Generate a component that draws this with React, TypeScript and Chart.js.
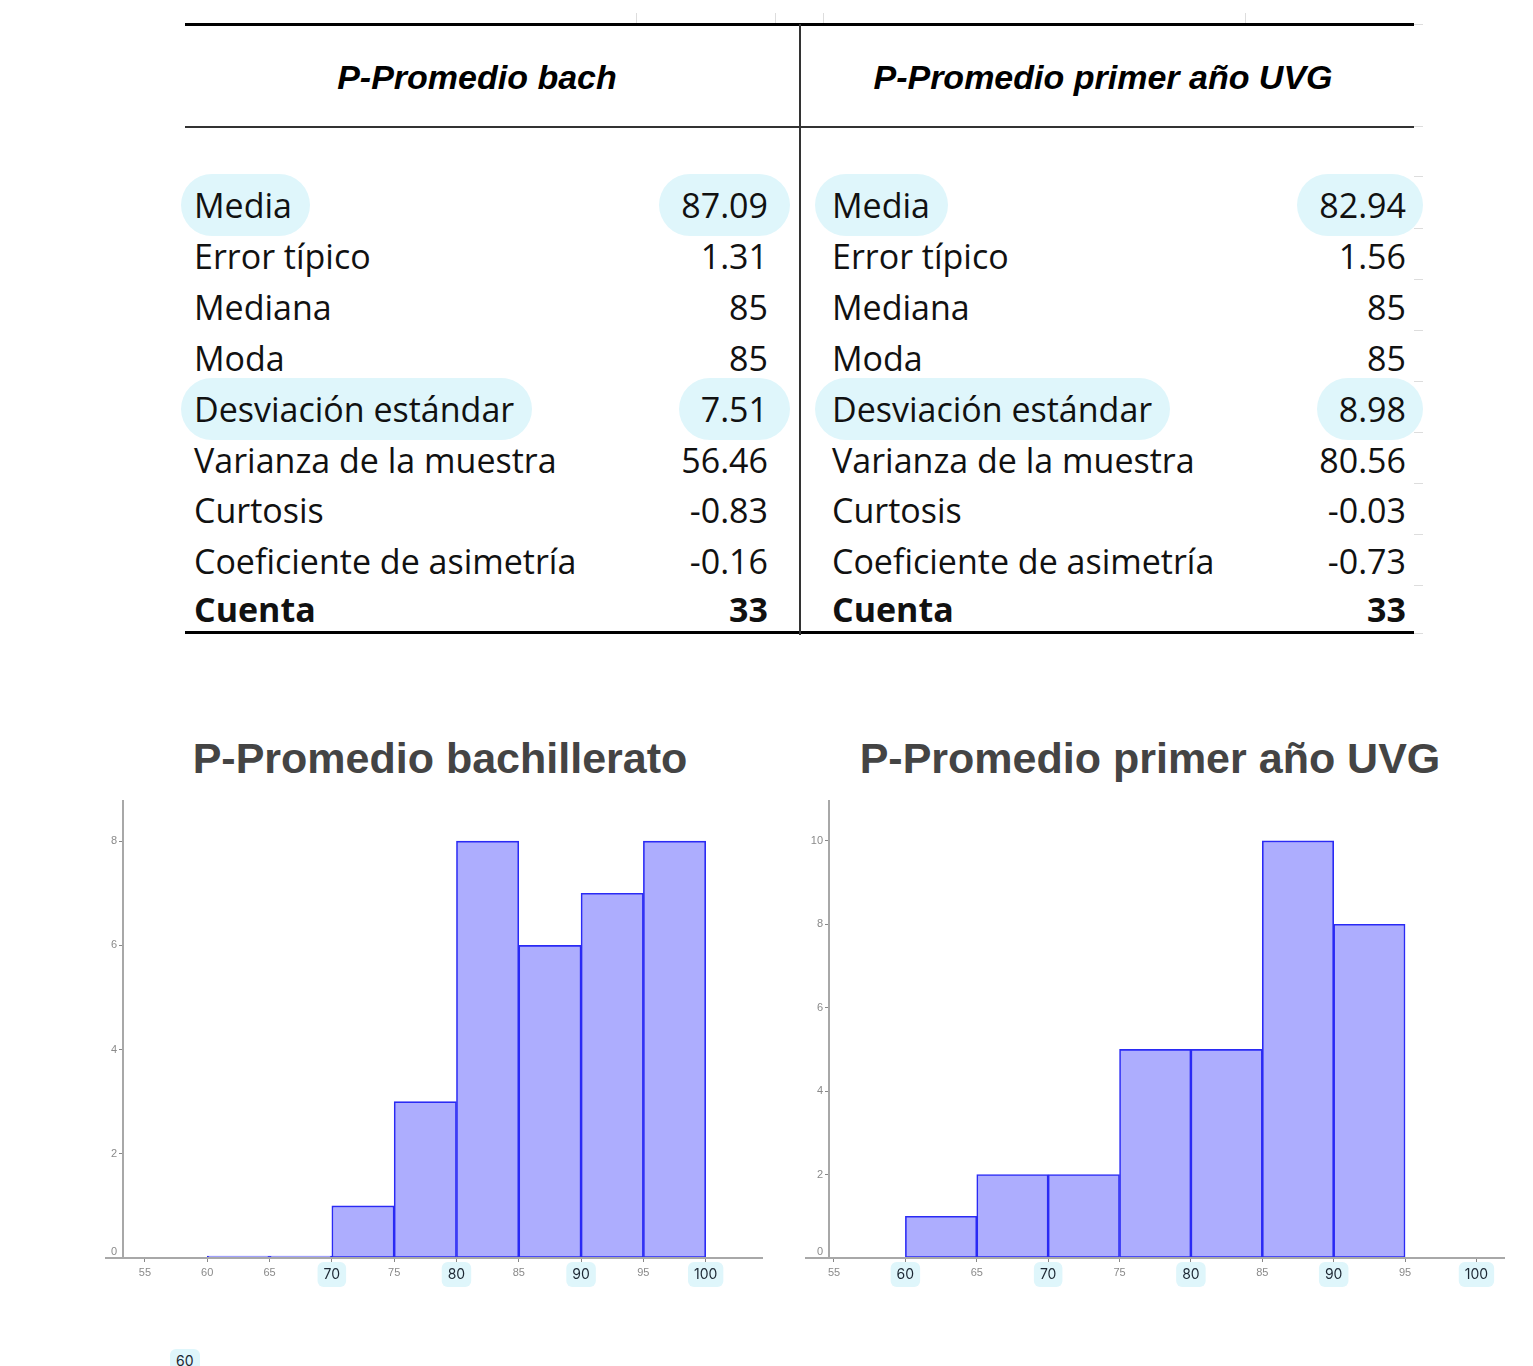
import React, { useEffect, useRef } from 'react';
import { Chart, registerables } from 'chart.js';

Chart.register(...registerables);

// ---------- data ----------
const statLabels = [
  'Media',
  'Error típico',
  'Mediana',
  'Moda',
  'Desviación estándar',
  'Varianza de la muestra',
  'Curtosis',
  'Coeficiente de asimetría',
  'Cuenta',
];
const bachStats = ['87.09', '1.31', '85', '85', '7.51', '56.46', '-0.83', '-0.16', '33'];
const uvgStats = ['82.94', '1.56', '85', '85', '8.98', '80.56', '-0.03', '-0.73', '33'];
const highlightedRows = [0, 4];
const tableHeaders = ['P-Promedio bach', 'P-Promedio primer año UVG'];

const chartTitles = ['P-Promedio bachillerato', 'P-Promedio primer año UVG'];
const binWidth = 5;
const bachBinStarts = [60, 65, 70, 75, 80, 85, 90, 95];
const bachCounts = [0, 0, 1, 3, 8, 6, 7, 8];
const uvgBinStarts = [60, 65, 70, 75, 80, 85, 90];
const uvgCounts = [1, 2, 2, 5, 5, 10, 8];
const xTicks = [55, 60, 65, 70, 75, 80, 85, 90, 95, 100];
const bachHighlightTicks = [70, 80, 90, 100];
const uvgHighlightTicks = [60, 70, 80, 90, 100];
const bachYTicks = [0, 2, 4, 6, 8];
const uvgYTicks = [0, 2, 4, 6, 8, 10];

const PILL = '#dff6fb';

type HistProps = {
  binStarts: number[];
  counts: number[];
  yTicks: number[];
  highlight: number[];
  xMin: number;
  xMax: number;
  yMax: number;
  yAxisWidth: number;
  padRight: number;
  width: number;
  height: number;
};

function Histogram(p: HistProps) {
  const ref = useRef<HTMLCanvasElement | null>(null);
  useEffect(() => {
    const canvas = ref.current;
    if (!canvas) return;
    const axisPlugin = {
      id: 'axisLines',
      beforeDraw(chart: any) {
        const { ctx, chartArea, scales } = chart;
        const xs = scales.x;
        ctx.save();
        ctx.font = '14px Inter';
        p.highlight.forEach((v) => {
          const x = xs.getPixelForValue(v);
          const w = ctx.measureText(String(v)).width + 12;
          const h = 25;
          const yc = chartArea.bottom + 16.5;
          ctx.fillStyle = PILL;
          ctx.beginPath();
          (ctx as any).roundRect(x - w / 2, yc - h / 2, w, h, 6);
          ctx.fill();
        });
        ctx.restore();
      },
      afterDatasetsDraw(chart: any) {
        const { ctx, chartArea } = chart;
        ctx.save();
        ctx.strokeStyle = '#a8a8a8';
        ctx.lineWidth = 2;
        ctx.beginPath();
        ctx.moveTo(chartArea.left, chartArea.top);
        ctx.lineTo(chartArea.left, chartArea.bottom);
        ctx.moveTo(15, chartArea.bottom);
        ctx.lineTo(chartArea.right, chartArea.bottom);
        ctx.stroke();
        // the zero label sits just above the baseline
        ctx.fillStyle = '#8a8a8a';
        ctx.font = '11px "Liberation Sans"';
        ctx.textAlign = 'right';
        ctx.textBaseline = 'bottom';
        ctx.fillText('0', chartArea.left - 6, chartArea.bottom - 1);
        ctx.restore();
      },
    };
    const chart = new Chart(canvas, {
      type: 'bar',
      data: {
        datasets: [
          {
            data: p.binStarts.map((s, i) => ({ x: s + binWidth / 2, y: p.counts[i] })),
            backgroundColor: '#adadfe',
            borderColor: '#2a2af4',
            borderWidth: 1.6,
            borderSkipped: false,
            minBarLength: 2,
            barPercentage: 1,
            categoryPercentage: 1,
          } as any,
        ],
      },
      options: {
        responsive: false,
        animation: false,
        devicePixelRatio: 1,
        layout: { padding: { top: 10, right: p.padRight, left: 0, bottom: 0 } },
        plugins: {
          legend: { display: false },
          tooltip: { enabled: false },
          title: { display: false },
        },
        scales: {
          x: {
            type: 'linear',
            offset: false,
            min: p.xMin,
            max: p.xMax,
            afterBuildTicks: (ax: any) => {
              ax.ticks = xTicks.map((v) => ({ value: v }));
            },
            afterFit: (s: any) => {
              s.height = 52;
            },
            border: { display: false },
            grid: {
              display: true,
              offset: false,
              drawOnChartArea: false,
              drawTicks: true,
              tickLength: 4,
              color: '#888',
              lineWidth: 1,
            },
            ticks: {
              autoSkip: false,
              maxRotation: 0,
              padding: 4,
              callback: (v: any) => String(v),
              font: (c: any) =>
                p.highlight.includes(c.tick?.value)
                  ? { family: 'Inter', size: 14 }
                  : { family: 'Liberation Sans', size: 11 },
              color: (c: any) => (p.highlight.includes(c.tick?.value) ? '#1c2733' : '#8a8a8a'),
            },
          },
          y: {
            type: 'linear',
            min: 0,
            max: p.yMax,
            afterBuildTicks: (ax: any) => {
              ax.ticks = p.yTicks.map((v) => ({ value: v }));
            },
            afterFit: (s: any) => {
              s.width = p.yAxisWidth;
            },
            border: { display: false },
            grid: {
              display: true,
              drawOnChartArea: false,
              drawTicks: true,
              tickLength: 4,
              color: (c: any) => (c.tick?.value === 0 ? 'rgba(0,0,0,0)' : '#888'),
            },
            ticks: {
              padding: 2,
              callback: (v: any) => (v === 0 ? '' : String(v)),
              font: { family: 'Liberation Sans', size: 11 },
              color: '#8a8a8a',
            },
          },
        },
      } as any,
      plugins: [axisPlugin],
    });
    return () => chart.destroy();
  }, []);
  return <canvas ref={ref} width={p.width} height={p.height} style={{ width: p.width, height: p.height, display: 'block' }} />;
}

const rowY = [205, 256, 307, 358, 409, 460, 510, 561, 609];
const rowH = 62;

function StatsTable() {
  const cols = [
    { labelX: 181, padL: 13, valueRight: 790, padR: 22, center: 477, values: bachStats },
    { labelX: 815, padL: 17, valueRight: 1423, padR: 17, center: 1103, values: uvgStats },
  ];
  const bodyFont = "'Open Sans', 'Noto Sans', sans-serif";
  const els: any[] = [];
  els.push(<div key="l-top" style={{ position: 'absolute', left: 185, top: 23, width: 1229, height: 3, background: '#000' }} />);
  els.push(<div key="l-head" style={{ position: 'absolute', left: 185, top: 126, width: 1229, height: 2, background: '#333' }} />);
  els.push(<div key="l-bot" style={{ position: 'absolute', left: 185, top: 631, width: 1229, height: 3, background: '#000' }} />);
  els.push(<div key="l-v" style={{ position: 'absolute', left: 799, top: 24, width: 2, height: 611, background: '#333' }} />);
  [636, 775, 823, 1245].forEach((x, i) =>
    els.push(<div key={'tk' + i} style={{ position: 'absolute', left: x, top: 13, width: 1, height: 10, background: '#ddd' }} />)
  );
  [24, 126, 176, 228, 279, 330, 381, 432, 483, 534, 585, 633].forEach((y, i) =>
    els.push(<div key={'rt' + i} style={{ position: 'absolute', left: 1414, top: y, width: 9, height: 1, background: '#ddd' }} />)
  );
  cols.forEach((c, ci) => {
    els.push(
      <div
        key={'h' + ci}
        style={{
          position: 'absolute',
          left: c.center - 300,
          width: 600,
          top: 77 - 25,
          height: 50,
          lineHeight: '50px',
          textAlign: 'center',
          fontFamily: "'Liberation Sans', Arial, sans-serif",
          fontStyle: 'italic',
          fontWeight: 700,
          fontSize: 34,
          color: '#000',
        }}
      >
        {tableHeaders[ci]}
      </div>
    );
    statLabels.forEach((lab, ri) => {
      const hl = highlightedRows.includes(ri);
      const bold = ri === statLabels.length - 1;
      const common: any = {
        position: 'absolute',
        top: rowY[ri] - rowH / 2,
        height: rowH,
        lineHeight: rowH + 'px',
        fontFamily: bodyFont,
        fontSize: 34,
        fontWeight: bold ? 700 : 400,
        color: '#111',
        whiteSpace: 'nowrap',
        borderRadius: rowH / 2,
        background: hl ? PILL : 'transparent',
      };
      els.push(
        <div key={'lab' + ci + ri} style={{ ...common, left: c.labelX, padding: `0 18px 0 ${c.padL}px` }}>
          {lab}
        </div>
      );
      els.push(
        <div
          key={'val' + ci + ri}
          style={{ ...common, right: 1533 - c.valueRight, padding: `0 ${c.padR}px 0 22px`, textAlign: 'right' }}
        >
          {c.values[ri]}
        </div>
      );
    });
  });
  return <>{els}</>;
}

export default function App() {
  return (
    <div style={{ position: 'absolute', left: 0, top: 0, width: 1533, height: 1366, background: '#fff', overflow: 'hidden' }}>
      <StatsTable />
      {chartTitles.map((t, i) => (
        <div
          key={'t' + i}
          style={{
            position: 'absolute',
            left: (i === 0 ? 440 : 1150) - 400,
            width: 800,
            top: 733,
            height: 50,
            lineHeight: '50px',
            textAlign: 'center',
            fontFamily: "'Liberation Sans', Arial, sans-serif",
            fontWeight: 700,
            fontSize: 43,
            color: '#444',
          }}
        >
          {t}
        </div>
      ))}
      <div style={{ position: 'absolute', left: 90, top: 790 }}>
        <Histogram
          binStarts={bachBinStarts}
          counts={bachCounts}
          yTicks={bachYTicks}
          highlight={bachHighlightTicks}
          xMin={53.24}
          xMax={104.6}
          yMax={8.79}
          yAxisWidth={33}
          padRight={17}
          width={690}
          height={520}
        />
      </div>
      <div style={{ position: 'absolute', left: 790, top: 790 }}>
        <Histogram
          binStarts={uvgBinStarts}
          counts={uvgCounts}
          yTicks={uvgYTicks}
          highlight={uvgHighlightTicks}
          xMin={54.65}
          xMax={102}
          yMax={10.98}
          yAxisWidth={39}
          padRight={28}
          width={743}
          height={520}
        />
      </div>
      <div
        style={{
          position: 'absolute',
          left: 170,
          top: 1349,
          padding: '3px 6px',
          background: PILL,
          borderRadius: 6,
          fontFamily: 'Inter',
          fontSize: 14,
          color: '#1c2733',
        }}
      >
        60
      </div>
    </div>
  );
}
